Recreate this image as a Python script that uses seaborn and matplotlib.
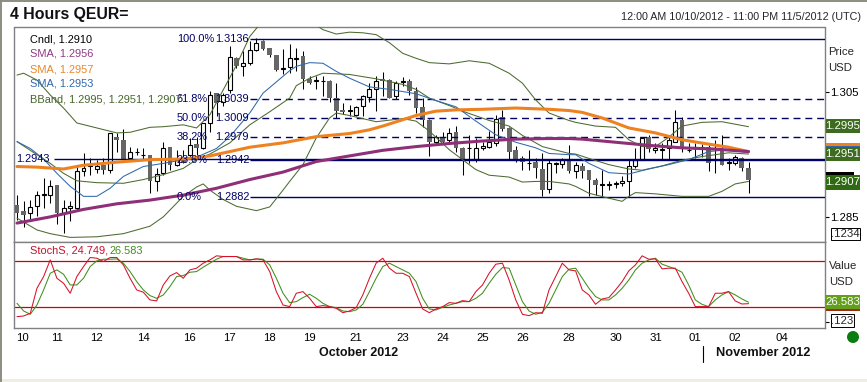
import matplotlib
matplotlib.use('Agg')
import matplotlib.pyplot as plt
from matplotlib.patches import Rectangle, Ellipse
from matplotlib.lines import Line2D
import pandas as pd
import seaborn as sns

# candles
opens = [1.2869,1.2860,1.2856,1.2867,1.2885,1.2885,1.2902,1.2856,1.2865,1.2864,
         1.2923,1.2931,1.2927,1.2933,1.2926,1.2979,1.2974,1.2944,1.2954,1.2949,
         1.2950,1.2907,1.2920,1.2963,1.2934,1.2947,1.2950,1.2967,1.2960,1.3001,
         1.3049,1.3035,1.3054,1.3105,1.3092,1.3097,1.3119,1.3132,1.3121,1.3111,
         1.3088,1.3091,1.3104,1.3109,1.3072,1.3068,1.3068,1.3069,1.3041,1.3022,
         1.3020,1.3014,1.3028,1.3042,1.3056,1.3072,1.3070,1.3045,1.3067,1.3069,
         1.3053,1.3027,1.3006,1.2970,1.2978,1.2973,1.2986,1.2961,1.2960,1.2943,
         1.2961,1.2962,1.2969,1.3011,1.2993,1.2957,1.2945,1.2936,1.2938,1.2927,
         1.2895,1.2935,1.2935,1.2942,1.2924,1.2932,1.2926,1.2910,1.2902,1.2902,
         1.2903,1.2904,1.2907,1.2931,1.2942,1.2978,1.2957,1.2958,1.2960,1.2971,
         1.3005,1.2957,1.2962,1.2962,1.2963,1.2943,1.2958,1.2937,1.2937,1.2944,
         1.2928]
highs = [1.2885,1.2875,1.2877,1.2891,1.2912,1.2910,1.2902,1.2877,1.2875,1.2934,
         1.2952,1.2944,1.2942,1.2944,1.2985,1.2985,1.2991,1.2963,1.2960,1.2960,
         1.2950,1.2928,1.2970,1.2963,1.2958,1.2957,1.2977,1.2979,1.3001,1.3052,
         1.3049,1.3049,1.3124,1.3107,1.3116,1.3132,1.3137,1.3135,1.3121,1.3111,
         1.3120,1.3128,1.3122,1.3117,1.3077,1.3077,1.3076,1.3070,1.3065,1.3033,
         1.3030,1.3029,1.3046,1.3065,1.3076,1.3083,1.3071,1.3068,1.3075,1.3072,
         1.3059,1.3041,1.3007,1.2982,1.2986,1.2993,1.2996,1.2962,1.2982,1.2977,
         1.2971,1.2988,1.3014,1.3022,1.2994,1.2964,1.2948,1.2957,1.2945,1.2952,
         1.2941,1.2939,1.2945,1.2966,1.2938,1.2936,1.2926,1.2912,1.2926,1.2907,
         1.2907,1.2915,1.2941,1.2960,1.2979,1.2982,1.2968,1.2968,1.2979,1.3022,
         1.3011,1.2968,1.2968,1.2967,1.2966,1.2974,1.2982,1.2944,1.2950,1.2947,
         1.2938]
lows = [1.2845,1.2833,1.2843,1.2851,1.2864,1.2872,1.2839,1.2824,1.2843,1.2861,
        1.2915,1.2918,1.2920,1.2919,1.2920,1.2955,1.2941,1.2943,1.2950,1.2943,
        1.2889,1.2892,1.2918,1.2926,1.2932,1.2936,1.2944,1.2950,1.2959,1.2987,
        1.3012,1.3029,1.3049,1.3089,1.3077,1.3094,1.3116,1.3119,1.3107,1.3085,
        1.3080,1.3082,1.3084,1.3055,1.3063,1.3055,1.3045,1.3034,1.3009,1.3016,
        1.3013,1.3012,1.3013,1.3034,1.3021,1.3044,1.3041,1.3040,1.3061,1.3046,
        1.3017,1.2994,1.2948,1.2966,1.2969,1.2969,1.2955,1.2918,1.2936,1.2939,
        1.2958,1.2961,1.2964,1.2988,1.2943,1.2939,1.2925,1.2925,1.2912,1.2883,
        1.2888,1.2920,1.2929,1.2920,1.2912,1.2912,1.2884,1.2885,1.2883,1.2893,
        1.2896,1.2899,1.2883,1.2928,1.2941,1.2955,1.2952,1.2943,1.2942,1.2971,
        1.2955,1.2954,1.2944,1.2947,1.2923,1.2921,1.2934,1.2926,1.2934,1.2923,
        1.2889]
closes = [1.2857,1.2853,1.2866,1.2885,1.2887,1.2900,1.2857,1.2864,1.2867,1.2923,
          1.2928,1.2933,1.2931,1.2926,1.2985,1.2973,1.2942,1.2954,1.2955,1.2950,
          1.2907,1.2919,1.2960,1.2934,1.2941,1.2936,1.2965,1.2960,1.3001,1.3046,
          1.3033,1.3046,1.3107,1.3092,1.3097,1.3119,1.3129,1.3120,1.3111,1.3086,
          1.3089,1.3105,1.3105,1.3071,1.3065,1.3070,1.3069,1.3041,1.3021,1.3018,
          1.3022,1.3027,1.3044,1.3056,1.3068,1.3068,1.3041,1.3066,1.3069,1.3053,
          1.3025,1.3005,1.2970,1.2979,1.2971,1.2985,1.2961,1.2943,1.2961,1.2961,
          1.2964,1.2970,1.3007,1.2991,1.2955,1.2943,1.2938,1.2937,1.2928,1.2894,
          1.2937,1.2937,1.2942,1.2923,1.2934,1.2923,1.2910,1.2902,1.2903,1.2903,
          1.2904,1.2908,1.2931,1.2942,1.2977,1.2959,1.2960,1.2959,1.2973,1.3003,
          1.2963,1.2958,1.2963,1.2963,1.2937,1.2940,1.2934,1.2938,1.2946,1.2928,
          1.2910]

# moving averages, read at the candle numbers given
sma_long_i = [0,5,10,15,20,25,30,35,40,45,50,55,60,65,70,75,80,83,85,90,95,100,105,110]
sma_long = [1.2840,1.2850,1.2862,1.2871,1.2877,1.2885,1.2896,1.2910,1.2922,1.2939,1.2948,1.2957,
            1.2963,1.2968,1.2972,1.2975,1.2976,1.2976,1.2975,1.2970,1.2965,1.2961,1.2959,1.2955]
sma_mid_i = [0,3,7,10,15,20,25,29,32,35,40,45,50,53,55,60,63,66,70,75,80,83,85,88,92,96,100,104,107,110]
sma_mid = [1.2931,1.2930,1.2927,1.2933,1.2938,1.2942,1.2943,1.2948,1.2955,1.2962,1.2969,1.2979,
           1.2984,1.2990,1.2996,1.3013,1.3020,1.3022,1.3023,1.3025,1.3023,1.3021,1.3018,1.3009,
           1.2993,1.2985,1.2974,1.2967,1.2962,1.2955]
sma_short_i = [0,2,4,6,8,10,12,14,16,19,22,25,27,30,32,35,37,41,42,44,46,48,50,53,56,60,63,66,69,
               72,75,78,80,83,84,86,89,92,95,98,101,104,107,110]
sma_short = [1.2971,1.2960,1.2943,1.2920,1.2899,1.2883,1.2883,1.2896,1.2915,1.2931,1.2936,1.2942,
             1.2946,1.2960,1.2979,1.3017,1.3049,1.3085,1.3092,1.3098,1.3097,1.3084,1.3073,1.3059,
             1.3055,1.3048,1.3037,1.3027,1.3004,1.2982,1.2970,1.2961,1.2952,1.2950,1.2950,1.2936,
             1.2921,1.2919,1.2927,1.2934,1.2942,1.2955,1.2958,1.2953]

# bollinger bands
bb_up_i = [0,1,3,5,7,9,12,15,17,20,22,25,27,29,31,33,35,36,38,42,46,48,50,52,54,56,58,60,62,65,
           68,71,74,76,78,80,83,84,87,90,92,94,96,98,100,103,106,110]
bb_up = [1.3078,1.3081,1.3070,1.3046,1.3025,1.3001,1.2993,1.2985,1.2986,1.2994,1.2995,1.2998,
         1.2993,1.3014,1.3054,1.3094,1.3140,1.3153,1.3178,1.3180,1.3151,1.3144,1.3147,1.3146,
         1.3143,1.3130,1.3113,1.3105,1.3098,1.3096,1.3101,1.3097,1.3081,1.3065,1.3038,1.3017,
         1.3005,1.3002,1.2996,1.2994,1.2974,1.2963,1.2963,1.2978,1.2996,1.3002,1.3003,1.2995]
bb_mid_i = [0,3,5,7,9,12,16,19,22,25,27,29,32,35,38,41,42,44,46,50,54,58,60,62,65,67,71,74,76,79,
            83,84,86,89,92,94,97,100,103,107,110]
bb_mid = [1.2971,1.2950,1.2936,1.2920,1.2908,1.2905,1.2904,1.2910,1.2918,1.2928,1.2942,1.2951,
          1.2969,1.2998,1.3019,1.3041,1.3061,1.3073,1.3081,1.3079,1.3072,1.3063,1.3055,1.3041,
          1.3029,1.3020,1.3005,1.2996,1.2981,1.2963,1.2952,1.2951,1.2944,1.2934,1.2927,1.2925,
          1.2932,1.2941,1.2947,1.2953,1.2951]
bb_low_i = [0,3,5,8,12,16,20,22,25,27,28,29,31,33,36,38,40,41,43,45,47,48,50,54,58,60,62,65,67,69,
            71,74,76,78,80,83,84,86,89,91,92,93,96,100,104,106,108,110]
bb_low = [1.2848,1.2829,1.2823,1.2817,1.2818,1.2823,1.2835,1.2850,1.2883,1.2898,1.2903,1.2893,
          1.2878,1.2867,1.2860,1.2866,1.2893,1.2907,1.2934,1.2977,1.3009,1.3017,1.3013,1.3003,
          1.3008,1.3004,1.2988,1.2958,1.2942,1.2926,1.2917,1.2914,1.2906,1.2907,1.2907,1.2903,
          1.2899,1.2888,1.2880,1.2875,1.2883,1.2889,1.2887,1.2883,1.2883,1.2891,1.2903,1.2907]

# stochastics, one value per candle
stoch_k = [7.8,8.7,12.2,44.8,60.0,81.7,57.8,51.3,38.3,60.0,73.0,84.8,83.9,79.6,84.8,84.8,75.2,57.8,
           42.6,39.6,29.6,28.3,49.1,60.9,65.2,57.8,68.7,70.9,77.4,81.7,87.0,86.1,86.1,86.1,81.7,81.7,
           83.0,81.7,66.5,40.4,23.0,20.9,38.3,40.4,31.7,20.9,22.2,20.9,18.7,13.0,15.2,19.6,36.1,57.8,
           77.4,83.9,70.9,64.3,64.3,60.0,38.3,17.8,13.0,17.8,20.9,26.1,25.2,28.7,27.4,40.4,49.1,64.3,
           76.1,77.4,55.6,29.6,10.9,9.1,13.0,12.2,42.6,60.0,77.4,68.7,67.4,42.6,36.1,23.9,30.9,32.6,
           42.6,53.5,67.4,75.2,87.0,82.6,83.0,70.0,70.9,70.9,53.5,38.3,20.9,20.9,20.9,38.3,38.3,40.4,
           28.3,24.3,24.7]
stoch_d = [25.2,15.2,10.9,23.0,42.6,64.3,68.7,63.0,49.1,49.1,57.8,73.0,80.4,82.6,82.6,83.0,77.4,66.5,
           53.5,42.6,35.2,31.7,36.1,47.0,60.0,61.3,65.6,66.5,72.2,77.4,82.6,86.1,86.1,86.1,83.9,81.7,
           83.0,82.6,75.2,57.8,38.3,26.1,27.4,32.6,37.0,31.7,25.2,20.9,19.6,15.2,14.3,16.5,23.9,40.4,
           57.8,73.0,77.4,73.0,68.7,64.3,53.5,31.7,17.8,16.5,20.0,23.0,25.2,27.4,27.4,31.7,38.3,51.3,
           63.0,71.7,70.9,49.1,27.4,15.2,10.9,13.5,25.2,42.6,60.0,69.6,70.9,57.8,44.8,33.9,29.6,29.6,
           36.1,44.8,55.6,68.7,77.4,81.7,83.9,76.1,73.0,70.0,65.6,49.1,29.6,23.9,20.9,29.6,36.1,40.4,
           36.1,30.9,26.6]

fib_pct = ['100.0%', '61.8%', '50.0%', '38.2%', '23.6%', '0.0%']
fib_val = [1.3136, 1.3039, 1.3009, 1.2979, 1.2942, 1.2882]
last_price = 1.2943

day_labels = ['10','11','12','14','16','17','18','19','21','23','24','25','26','28','30','31','01','02','04']
day_pos = [0.75,6,12,19,26,32,38,44,51,58,64,70,76,83,90,96,102,108,115]

legend_rows = [('Cndl, 1.2910', 'black'), ('SMA, 1.2956', '#8e3a86'), ('SMA, 1.2957', '#e8872a'),
               ('SMA, 1.2953', '#2f68ad'), ('BBand, 1.2995, 1.2951, 1.2907', '#46662c')]

W, H = 867, 382
NAVY = '#000066'
GRAY = '#808080'
sns.set_theme(style='white')
plt.rcParams['font.family'] = ['Liberation Sans', 'DejaVu Sans']

fig = plt.figure(figsize=(W / 100, H / 100), dpi=100, facecolor='white')


def box(x0, y0, x1, y1):
    return [x0 / W, 1 - y1 / H, (x1 - x0) / W, (y1 - y0) / H]


def fig_text(x, y, s, **kw):
    kw.setdefault('va', 'center')
    kw.setdefault('fontsize', 7.9)
    fig.text(x / W, 1 - y / H, s, **kw)


ax = fig.add_axes(box(14.5, 27.5, 825, 242))
ax2 = fig.add_axes(box(14.5, 242, 825, 327.5))
xlim = (-0.376, 121.5)

# candles
n = len(closes)
idx = list(range(n))
df = pd.DataFrame({'i': idx, 'o': opens, 'h': highs, 'l': lows, 'c': closes})
up = df[df.c >= df.o]
down = df[df.c < df.o]
ax.vlines(df.i, df.l, df.h, color='black', lw=0.75, zorder=2)
ax.bar(down.i, down.o - down.c, bottom=down.c, width=0.72, color='#666666', lw=0, zorder=3)
ax.bar(up.i, up.c - up.o, bottom=up.o, width=0.6, color='white', edgecolor='black', lw=0.8, zorder=3)

# fibonacci levels
fib_x = 35
for pct, val in zip(fib_pct, fib_val):
    ls = '-' if pct in ('100.0%', '0.0%', '23.6%') else (0, (5, 3.5))
    ax.hlines(val, fib_x, xlim[1], color=NAVY, lw=1.0, ls=ls, zorder=4)
    ax.text(24.05, val, pct, color=NAVY, fontsize=7.9, ha='left', va='center', zorder=7)
    ax.text(34.9, val, f'{val:.4f}', color=NAVY, fontsize=7.9, ha='right', va='center', zorder=7)
ax.hlines(last_price, 5.6, xlim[1], color=NAVY, lw=1.0, zorder=4)
ax.text(-0.15, last_price, f'{last_price:.4f}', color=NAVY, fontsize=7.9, va='center', zorder=7)

# overlays
for xs, ys, col, lw in [(bb_up_i, bb_up, '#4c6b2f', 0.75), (bb_mid_i, bb_mid, '#4c6b2f', 0.75),
                        (bb_low_i, bb_low, '#4c6b2f', 0.75), (sma_short_i, sma_short, '#2f68ad', 0.75),
                        (sma_mid_i, sma_mid, '#ef8220', 2.2), (sma_long_i, sma_long, '#8e2f78', 2.2)]:
    sns.lineplot(x=xs, y=ys, ax=ax, color=col, lw=lw, estimator=None, sort=False, legend=False, zorder=5)

ax.set_xlim(xlim)
ax.set_ylim(1.28096, 1.31545)
ax.set_xticks([])
ax.yaxis.tick_right()
ax.set_yticks([1.305, 1.285])
ax.set_yticklabels(['1.305', '1.285'], fontsize=8.2, color='black')
ax.tick_params(axis='y', length=3, width=0.8, color='black', pad=1)

# stochastics panel
ax2.hlines([80, 20], xlim[0], xlim[1], color='#d40000', lw=0.9, zorder=2)
sns.lineplot(x=idx, y=stoch_d, ax=ax2, color='#3f8f1c', lw=0.75, estimator=None, legend=False, zorder=3)
sns.lineplot(x=idx, y=stoch_k, ax=ax2, color='#d8102a', lw=0.75, estimator=None, legend=False, zorder=4)
ax2.set_xlim(xlim)
ax2.set_ylim(-6.3, 105)
ax2.set_xticks(day_pos)
ax2.set_xticklabels(day_labels, fontsize=8.2, color='black')
ax2.tick_params(axis='x', length=0, pad=4)
ax2.yaxis.tick_right()
ax2.set_yticks([1])
ax2.set_yticklabels([''])
ax2.tick_params(axis='y', length=3, width=0.8, color='black')

for a in (ax, ax2):
    a.set_xlabel('')
    a.set_ylabel('')
    for s in a.spines.values():
        s.set_visible(True)
        s.set_color(GRAY)
        s.set_linewidth(1.0)

# legend rows
for k, (txt, col) in enumerate(legend_rows):
    fig_text(30, 39 + 15 * k, txt, color=col, zorder=8)
fig_text(30, 250.5, 'StochS, 24.749,', color='#c8102e')
fig_text(110, 250.5, '26.583', color='#3f8f1c')

# header and right side
fig_text(10, 14, '4 Hours QEUR=', fontsize=11.4, fontweight='bold', color='#111111')
fig_text(861, 17, '12:00 AM 10/10/2012 - 11:00 PM 11/5/2012 (UTC)', ha='right', fontsize=7.75)
fig_text(828, 52, 'Price', fontsize=8.2)
fig_text(828, 68, 'USD', fontsize=8.2)
fig_text(829, 266, 'Value', fontsize=8.2)
fig_text(829, 282, 'USD', fontsize=8.2)

for y0, y1, x1, col in [(143, 146, 860, '#ef8220'), (146, 148, 860, '#2f68ad'),
                        (172, 176, 854, 'black'), (309, 311, 860, '#a32a10')]:
    fig.add_artist(Rectangle((826 / W, 1 - y1 / H), (x1 - 826) / W, (y1 - y0) / H,
                             transform=fig.transFigure, fc=col, lw=0))
for y0, y1, s, col in [(119, 133, '1.2995', '#3d6b1f'), (147, 161, '1.2951', '#3d6b1f'),
                       (175, 190, '1.2907', '#2f6a12'), (295, 309, '26.583', '#62a01c')]:
    fig.add_artist(Rectangle((826 / W, 1 - y1 / H), 34 / W, (y1 - y0) / H, transform=fig.transFigure, fc=col, lw=0))
    fig_text(843, (y0 + y1) / 2, s, color='white', ha='center', fontsize=8.2)
for x0, y0, x1, y1, s in [(831, 228, 860, 240, '.1234'), (831, 314, 854, 327, '.123')]:
    fig.add_artist(Rectangle((x0 / W, 1 - y1 / H), (x1 - x0) / W, (y1 - y0) / H, transform=fig.transFigure,
                             fc='white', ec='black', lw=0.7))
    fig_text((x0 + x1) / 2, (y0 + y1) / 2, s, ha='center', fontsize=8.2)

fig_text(359, 353, 'October 2012', ha='center', fontweight='bold', fontsize=9.0, color='#111111')
fig_text(763.5, 353, 'November 2012', ha='center', fontweight='bold', fontsize=9.2, color='#111111')
fig.add_artist(Line2D([702.5 / W] * 2, [1 - 346 / H, 1 - 362 / H], color='black', lw=0.8))
fig.add_artist(Ellipse((853 / W, 1 - 337 / H), 12 / W, 12 / H, transform=fig.transFigure, fc='#0a7d12', lw=0))

# outer window border
fig.add_artist(Line2D([0, 1], [1 - 1 / H] * 2, color='#8c8c80', lw=1.4))
fig.add_artist(Line2D([1 / W] * 2, [0, 1], color='#8c8c80', lw=1.4))
fig.add_artist(Rectangle((0, 0), 1, 3 / H, transform=fig.transFigure, fc='#eeeee2', lw=0))

fig.savefig('out.png', dpi=100)
